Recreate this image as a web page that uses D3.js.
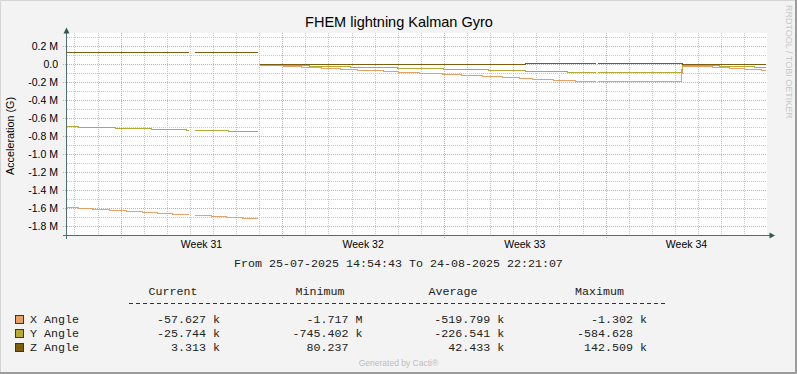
<!DOCTYPE html>
<html lang="en">
<head>
<meta charset="UTF-8">
<title>FHEM lightning Kalman Gyro</title>
<style>
    body{margin:0;background:#f3f3f3;}
    svg{display:block;}
    text{font-family:"Liberation Sans",Arial,sans-serif;fill:#000;}
    .mono{font-family:"Liberation Mono","Courier New",monospace;font-size:11.67px;white-space:pre;fill:#222;}
    .series{fill:none;stroke-width:1px;shape-rendering:crispEdges;}
</style>
<script src="https://d3js.org/d3.v7.min.js"></script>
</head>
<body>
<div class="canvas"></div>
<script>
const startTime = "2025-07-25T14:54:43";
const endTime = "2025-08-24T22:21:07";

const seriesNames = ["X Angle", "Y Angle", "Z Angle"];
const seriesColors = ["#E9A064", "#B8A935", "#7E5C10"];

// step values, each holds until the next time; null = no data
const xAngleTimes = ["2025-07-25T14:54:43","2025-07-26T04:26","2025-07-26T18:59","2025-07-27T12:38","2025-07-28T06:19",
    "2025-07-28T22:56","2025-07-29T14:30","2025-07-30T06:06","2025-07-30T22:42","2025-07-31T05:00","2025-07-31T22:36",
    "2025-08-01T14:12","2025-08-02T06:48","2025-08-02T22:40","2025-08-03T00:40","2025-08-04T00:45","2025-08-04T19:50",
    "2025-08-05T16:40","2025-08-06T12:40","2025-08-07T06:40","2025-08-08T08:40","2025-08-09T00:55","2025-08-09T22:50",
    "2025-08-10T23:00","2025-08-11T18:05","2025-08-12T15:55","2025-08-13T13:20","2025-08-14T06:40","2025-08-14T20:30",
    "2025-08-15T18:00","2025-08-16T16:55","2025-08-17T13:40","2025-08-17T15:45","2025-08-21T07:00","2025-08-21T08:00",
    "2025-08-22T15:15","2025-08-23T08:55","2025-08-24T00:30","2025-08-24T18:10"];
const xAngleValues = [-1592000,-1604000,-1615000,-1626000,-1637000,
    -1648000,-1659000,-1670000,null,-1682000,-1693000,
    -1704000,-1715000,null,-7800,-22300,-33400,
    -44500,-55700,-66800,-78000,-89000,-100000,
    -111000,-122500,-133600,-144800,-156000,-167000,
    -178000,-189000,null,-189000,-95000,-16000,
    -27000,-38000,-50000,-57627];

const yAngleTimes = ["2025-07-25T14:54:43","2025-07-26T04:26","2025-07-27T18:53","2025-07-29T08:17","2025-07-30T20:40",
    "2025-07-30T22:42","2025-07-31T05:00","2025-08-01T16:18","2025-08-02T22:40","2025-08-03T00:40","2025-08-04T00:30",
    "2025-08-05T04:30","2025-08-06T23:05","2025-08-08T23:55","2025-08-10T23:45","2025-08-12T22:30","2025-08-14T12:55",
    "2025-08-16T08:35","2025-08-17T13:40","2025-08-17T15:45","2025-08-21T07:00","2025-08-21T08:00","2025-08-22T22:30",
    "2025-08-24T10:55"];
const yAngleValues = [-687000,-702000,-713000,-724000,-735000,
    null,-735000,-745402,null,-4500,-11000,
    -22000,-33000,-44500,-55700,-66800,-78000,
    -89000,null,-89000,-50000,-10000,-20000,
    -25744];

const zAngleTimes = ["2025-07-25T14:54:43","2025-07-30T22:42","2025-07-31T05:00","2025-08-02T22:40","2025-08-03T00:40",
    "2025-08-14T12:55","2025-08-17T13:40","2025-08-17T15:45","2025-08-21T08:00"];
const zAngleValues = [142509,null,142509,null,800,
    11000,null,11000,3313];

const yTickValues = [200000,0,-200000,-400000,-600000,-800000,-1000000,-1200000,-1400000,-1600000,-1800000];

const statHeaders = ["Current", "Minimum", "Average", "Maximum"];
const currentValues = [-57627, -25744, 3313];
const minimumValues = [-1717000, -745402, 80.237];
const averageValues = [-519799, -226541, 42433];
const maximumValues = [-1302, -584.628, 142509];

const W = 797, H = 374;
const toDate = s => new Date(s + "Z");
const t0 = toDate(startTime), t1 = toDate(endTime);

const x = d3.scaleUtc().domain([t0, t1]).range([65.7, 765.7]);
const y = d3.scaleLinear().domain([-1912000, 349000]).range([236, 33]);

const svg = d3.select('.canvas').append('svg')
    .attr('width', W).attr('height', H);

// background + frame
svg.append('rect').attr('width', W).attr('height', H).attr('fill', '#f3f3f3');
svg.append('path').attr('d', `M0.5,${H}V0.5H${W}`).attr('stroke', '#d4d4d4').attr('fill', 'none');
svg.append('path').attr('d', `M${W-1},0V${H-1}H0`).attr('stroke', '#9c9c9c').attr('stroke-width', 2).attr('fill', 'none');

// plot area
svg.append('rect').attr('x', 66).attr('y', 33).attr('width', 701).attr('height', 203).attr('fill', '#fff');

const grid = svg.append('g');
// minor grid
grid.selectAll('.hmin').data(d3.range(-1900000, 349000, 100000)).enter().append('line')
    .attr('x1', 67).attr('x2', 767)
    .attr('y1', d => Math.round(y(d)) + 0.5).attr('y2', d => Math.round(y(d)) + 0.5)
    .attr('stroke', '#c8c8c8').attr('stroke-dasharray', '1,1');
grid.selectAll('.vmin').data(d3.utcDay.range(t0, t1)).enter().append('line')
    .attr('x1', d => Math.round(x(d)) + 0.5).attr('x2', d => Math.round(x(d)) + 0.5)
    .attr('y1', 33).attr('y2', 236)
    .attr('stroke', '#c8c8c8').attr('stroke-dasharray', '1,1');
// major grid
grid.selectAll('.hmaj').data(yTickValues).enter().append('line')
    .attr('x1', 63).attr('x2', 767)
    .attr('y1', d => Math.round(y(d)) + 0.5).attr('y2', d => Math.round(y(d)) + 0.5)
    .attr('stroke', '#f19a9a').attr('stroke-dasharray', '1,1');
const weeks = d3.utcMonday.range(t0, t1);
grid.selectAll('.vmaj').data(weeks).enter().append('line')
    .attr('x1', d => Math.round(x(d)) + 0.5).attr('x2', d => Math.round(x(d)) + 0.5)
    .attr('y1', 33).attr('y2', 239)
    .attr('stroke', '#f19a9a').attr('stroke-dasharray', '1,1');

// y tick labels
svg.selectAll('.ylab').data(yTickValues).enter().append('text')
    .attr('x', 58).attr('y', d => y(d)).attr('dy', '0.36em')
    .attr('text-anchor', 'end').attr('font-size', '10.5px')
    .text(d => d === 0 ? '0.0' : (d / 1e6).toFixed(1) + ' M');

// week labels at mid-week
const weekFmt = d3.utcFormat('%V');
const weekLabels = d3.utcMonday.range(d3.utcMonday.offset(t0, -1), t1)
    .map(d => new Date(+d + 3.5 * 864e5))
    .filter(d => d > t0 && d < t1);
svg.selectAll('.xlab').data(weekLabels).enter().append('text')
    .attr('x', d => x(d)).attr('y', 248)
    .attr('text-anchor', 'middle').attr('font-size', '10.5px')
    .text(d => 'Week ' + (+weekFmt(d)));

// series
function toPoints(times, values){
    const pts = [];
    times.forEach((t, i) => {
        const v = values[i];
        if (v === null && i > 0) pts.push({t: toDate(t), v: values[i - 1]});
        pts.push({t: toDate(t), v: v});
    });
    pts.push({t: t1, v: values[values.length - 1]});
    return pts;
}
const line = d3.line()
    .defined(d => d.v !== null)
    .x(d => x(d.t)).y(d => Math.round(y(d.v)) + 0.5)
    .curve(d3.curveStepAfter);
const series = [
    toPoints(xAngleTimes, xAngleValues),
    toPoints(yAngleTimes, yAngleValues),
    toPoints(zAngleTimes, zAngleValues)
];
svg.selectAll('.series').data(series).enter().append('path')
    .attr('class', 'series')
    .attr('d', line)
    .attr('stroke', (d, i) => seriesColors[i]);

// axes
svg.append('line').attr('x1', 66.5).attr('x2', 66.5).attr('y1', 33).attr('y2', 239)
    .attr('stroke', '#4f6f6a');
svg.append('line').attr('x1', 63).attr('x2', 771).attr('y1', 235.5).attr('y2', 235.5)
    .attr('stroke', '#4f6f6a');
svg.append('path').attr('d', 'M66.5,27.5L69.5,33.5H63.5Z').attr('fill', '#2f5a4f');
svg.append('path').attr('d', 'M775,235.5L769.5,232.5V238.5Z').attr('fill', '#2f5a4f');

// title, y title, watermark
svg.append('text').attr('x', 399).attr('y', 27).attr('text-anchor', 'middle')
    .attr('font-size', '14.5px').text('FHEM lightning Kalman Gyro');
svg.append('text').attr('transform', 'translate(14,136) rotate(-90)')
    .attr('text-anchor', 'middle').attr('font-size', '10.8px').text('Acceleration (G)');
svg.append('text').attr('transform', 'translate(786,5) rotate(90)')
    .attr('font-size', '9px').style('fill', '#c8c8c8').text('RRDTOOL / TOBI OETIKER');

// period line
svg.append('text').attr('class', 'mono').attr('x', 398.5).attr('y', 267)
    .attr('text-anchor', 'middle').text('From 25-07-2025 14:54:43 To 24-08-2025 22:21:07');

// legend header
const headerX = [148.5, 295.5, 428.5, 575];
svg.selectAll('.hdr').data(statHeaders).enter().append('text')
    .attr('class', 'mono').attr('x', (d, i) => headerX[i]).attr('y', 295).text(d => d);
// separator rule
svg.append('line').attr('x1', 129).attr('x2', 666).attr('y1', 303.5).attr('y2', 303.5)
    .attr('stroke', '#333').attr('stroke-dasharray', '4,3');

// legend rows
function fmt(v){
    const a = Math.abs(v);
    let unit = ' ', s = v;
    if (a >= 1e6) { s = v / 1e6; unit = 'M'; }
    else if (a >= 1e3) { s = v / 1e3; unit = 'k'; }
    return s.toFixed(3).padStart(8) + ' ' + unit;
}
const statCols = [currentValues, minimumValues, averageValues, maximumValues];
const statX = [150, 292.5, 434.2, 577];
const rowY = [323, 337, 351];
const rows = svg.selectAll('.row').data(seriesNames).enter().append('g');
rows.append('rect')
    .attr('x', 15.5).attr('y', (d, i) => rowY[i] - 7.5).attr('width', 8).attr('height', 8)
    .attr('fill', (d, i) => seriesColors[i]).attr('stroke', '#2b3b3b');
rows.append('text').attr('class', 'mono').attr('x', 30).attr('y', (d, i) => rowY[i]).text(d => d);
statCols.forEach((col, c) => {
    svg.selectAll('.c' + c).data(col).enter().append('text')
        .attr('class', 'mono').attr('x', statX[c]).attr('y', (d, i) => rowY[i])
        .text(d => fmt(d));
});

svg.append('text').attr('x', 398.5).attr('y', 366).attr('text-anchor', 'middle')
    .attr('font-size', '8.5px').style('fill', '#bdbdbd').text('Generated by Cacti®');
</script>
</body>
</html>
